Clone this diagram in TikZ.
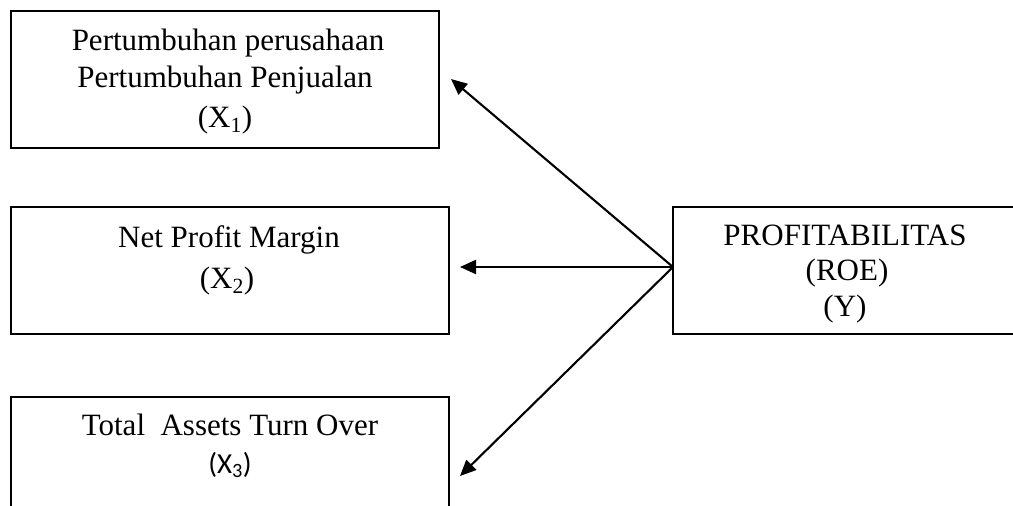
\documentclass[tikz,border=0pt]{standalone}
\usepackage{fontspec}
\setmainfont{Liberation Serif}
\newfontfamily\carlitofont{Carlito}
\usetikzlibrary{arrows.meta}
\begin{document}
\begin{tikzpicture}[x=1pt,y=-1pt,
  box/.style={draw, line width=2.1pt, anchor=north west, inner sep=0pt, outer sep=0pt},
  lbl/.style={anchor=base, inner sep=0pt, font=\fontsize{31}{37}\selectfont},
  sanslbl/.style={anchor=base, inner sep=0pt, font=\carlitofont\fontsize{29}{35}\selectfont},
  conn/.style={line width=2.1pt, -{Triangle[length=16pt,width=14pt]}}]
\useasboundingbox (0,0) rectangle (1013,506);
\clip (0,0) rectangle (1013,506);
% boxes
\node[box, minimum width=428pt, minimum height=137pt] (b1) at (11,11) {};
\node[box, minimum width=438pt, minimum height=127pt] (b2) at (11,207) {};
\node[box, minimum width=438pt, minimum height=150pt] (b3) at (11,397) {};
\node[box, minimum width=344pt, minimum height=127pt] (yr) at (673,207) {};
% texts
\node[lbl] (t1a) at (228,50) {Pertumbuhan perusahaan};
\node[lbl] (t1b) at (225,87) {Pertumbuhan Penjualan};
\node[lbl] (t1c) at (225,127) {(X\textsubscript{1})};
\node[lbl] (t2a) at (229,247) {Net Profit Margin};
\node[lbl] (t2b) at (227,288) {(X\textsubscript{2})};
\node[lbl] (t3a) at (230,435) {Total\ \ Assets Turn Over};
\node[sanslbl] (t3b) at (230,473) {(X\textsubscript{3})};
\node[lbl] (ya) at (845,245) {PROFITABILITAS};
\node[lbl] (yb) at (847,280) {(ROE)};
\node[lbl] (yc) at (845,316) {(Y)};
% arrow ends
\coordinate (e1) at (451,79);
\coordinate (e2) at (460,267);
\coordinate (e3) at (460,476);
\coordinate (src) at ([yshift=3.5pt]yr.west);
\draw[conn] (src) -- (e1);
\draw[conn] (src) -- (e2);
\draw[conn] (src) -- (e3);
\end{tikzpicture}
\end{document}
